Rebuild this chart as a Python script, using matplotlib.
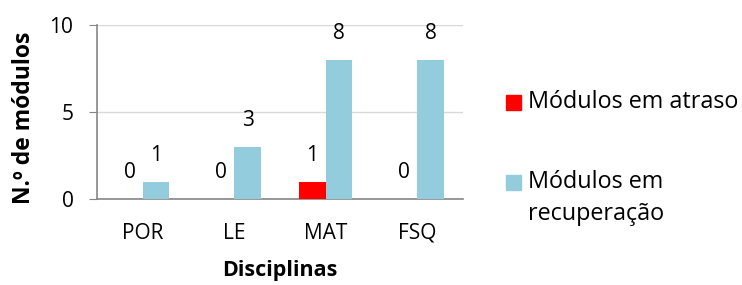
import matplotlib.pyplot as plt
import numpy as np
from matplotlib.patches import Rectangle

plt.rcParams['font.family'] = ['Open Sans', 'DejaVu Sans']

disciplinas = ['POR', 'LE', 'MAT', 'FSQ']
atraso = [0, 0, 1, 0]
recuperacao = [1, 3, 8, 8]

cor_atraso = '#ff0000'
cor_recup = '#93cddd'
fs = 15
fs_bold = 15.5
fs_leg = 16.8

fig = plt.figure(figsize=(7.42, 2.85), dpi=100)
ax = fig.add_axes([97 / 742, 1 - 199 / 285, 366 / 742, 174 / 285])

x = np.arange(len(disciplinas))
w = 0.29
b1 = ax.bar(x - w / 2, atraso, w, color=cor_atraso, zorder=3)
b2 = ax.bar(x + w / 2, recuperacao, w, color=cor_recup, zorder=3)

for bars, vals in ((b1, atraso), (b2, recuperacao)):
    for r, v in zip(bars, vals):
        ax.annotate(str(v), (r.get_x() + r.get_width() / 2, v),
                    xytext=(0, 19), textcoords='offset points',
                    ha='center', va='center', fontsize=fs)

ax.set_xlim(-0.5, len(disciplinas) - 0.5)
ax.set_ylim(0, 10)
ax.set_yticks([0, 5, 10])
ax.set_xticks(x)
ax.set_xticklabels(disciplinas)
ax.tick_params(axis='x', length=0, pad=17, labelsize=fs)
ax.tick_params(axis='y', length=6, color='#868686', pad=11, labelsize=fs)
ax.yaxis.grid(True, color='#d9d9d9', linewidth=1, zorder=0)
ax.set_axisbelow(True)
for s in ('top', 'right'):
    ax.spines[s].set_visible(False)
for s in ('left', 'bottom'):
    ax.spines[s].set_color('#868686')
    ax.spines[s].set_linewidth(1.2)

ax.set_xlabel('Disciplinas', fontsize=fs_bold, fontweight='bold', labelpad=12)
ax.set_ylabel('N.º de módulos', fontsize=16.5, fontweight='bold')
ax.yaxis.set_label_coords(-0.166, 0.466)

# legenda
fig.patches.append(Rectangle((506 / 742, 1 - 110 / 285), 15 / 742, 15 / 285,
                             transform=fig.transFigure, color=cor_atraso))
fig.text(528 / 742, 1 - 102 / 285, 'Módulos em atraso', fontsize=fs_leg, va='center')
fig.patches.append(Rectangle((506 / 742, 1 - 190 / 285), 15 / 742, 15 / 285,
                             transform=fig.transFigure, color=cor_recup))
fig.text(528 / 742, 1 - 182 / 285, 'Módulos em', fontsize=fs_leg, va='center')
fig.text(528 / 742, 1 - 214 / 285, 'recuperação', fontsize=fs_leg, va='center')

fig.savefig('out.png', dpi=100)
